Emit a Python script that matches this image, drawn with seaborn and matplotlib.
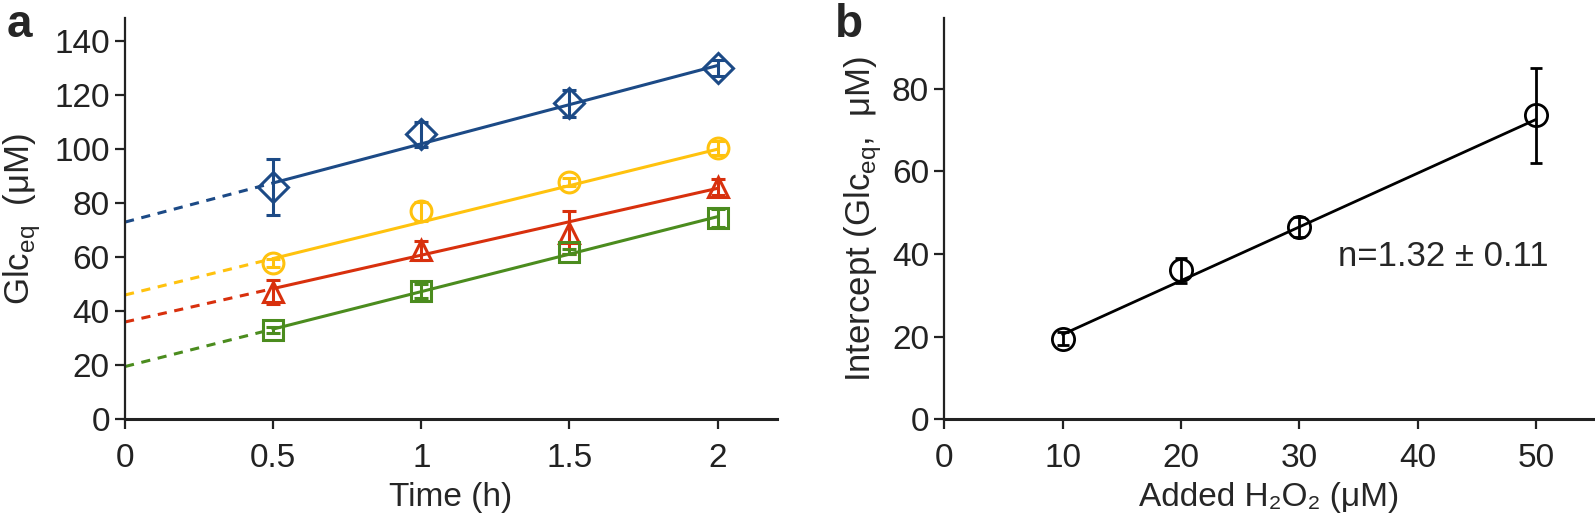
import numpy as np
import pandas as pd
import seaborn as sns
import matplotlib.pyplot as plt

# ---- panel a data ----
time_h = [0.5, 1.0, 1.5, 2.0]
series_names = ['blue', 'yellow', 'red', 'green']
series_colors = ['#1c4a86', '#ffc20e', '#d8300d', '#4b8c1e']
series_markers = ['D', 'o', '^', 's']
glc_blue = [86, 105.5, 117, 130]
glc_yellow = [58, 77, 88, 100.5]
glc_red = [47, 62.5, 69, 86]
glc_green = [33, 47.5, 62, 74.5]
err_blue = [10.5, 4.5, 5, 3]
err_yellow = [1.5, 3.5, 1.5, 2.5]
err_red = [4.5, 3.5, 8, 3]
err_green = [1, 2.5, 1, 3.2]
# fitted line values at t=0 and t=2
fit_start = [73, 46, 36, 19.5]
fit_end = [131, 100, 85.5, 75]

# ---- panel b data ----
h2o2 = [10, 20, 30, 50]
intercept = [19.5, 36, 46.5, 73.5]
intercept_err = [1.5, 3, 2.5, 11.5]
fit_b_x = [10, 50]
fit_b_y = [20.5, 72.5]

sns.set_theme(style='ticks')
narrow = ['Liberation Sans Narrow', 'Liberation Sans', 'DejaVu Sans']
plt.rcParams['font.family'] = narrow
plt.rcParams['mathtext.fontset'] = 'custom'
plt.rcParams['mathtext.rm'] = 'Liberation Sans'
plt.rcParams['axes.edgecolor'] = '#222222'
plt.rcParams['xtick.color'] = '#222222'
plt.rcParams['ytick.color'] = '#222222'

fig = plt.figure(figsize=(15.95, 5.22), dpi=100)
ax_a = fig.add_axes([0.0784, 0.197, 0.4086, 0.768])
ax_b = fig.add_axes([0.592, 0.197, 0.408, 0.768])

ys = [glc_blue, glc_yellow, glc_red, glc_green]
es = [err_blue, err_yellow, err_red, err_green]
for i, name in enumerate(series_names):
    c = series_colors[i]
    y0, y2 = fit_start[i], fit_end[i]
    y05 = y0 + (y2 - y0) * 0.25
    dashed = pd.DataFrame({'x': [0, 0.5], 'y': [y0, y05]})
    solid = pd.DataFrame({'x': [0.5, 2], 'y': [y05, y2]})
    sns.lineplot(data=dashed, x='x', y='y', ax=ax_a, color=c, lw=2.2,
                 linestyle=(0, (3, 2.5)))
    sns.lineplot(data=solid, x='x', y='y', ax=ax_a, color=c, lw=2.2)
    ms = 14 if series_markers[i] == 's' else 15
    ax_a.errorbar(time_h, ys[i], yerr=es[i], fmt=series_markers[i], color=c,
                  mfc='none', mec=c, mew=2.2, ms=ms, capsize=5, elinewidth=2.2,
                  capthick=2.2, zorder=3)

ax_a.set_xlim(0, 2.2)
ax_a.set_ylim(0, 148.5)
ax_a.set_xticks([0, 0.5, 1, 1.5, 2])
ax_a.set_xticklabels(['0', '0.5', '1', '1.5', '2'])
ax_a.set_yticks(range(0, 141, 20))
ax_a.set_xlabel('Time (h)', fontsize=24, labelpad=6)
ax_a.set_ylabel(r'Glc$_{\rm eq}$  (μM)', fontsize=25, labelpad=8,
                family=['Liberation Sans', 'DejaVu Sans'])

sns.lineplot(x=fit_b_x, y=fit_b_y, ax=ax_b, color='black', lw=2)
ax_b.errorbar(h2o2, intercept, yerr=intercept_err, fmt='o', color='black',
              mfc='none', mec='black', mew=2, ms=16, capsize=4.5,
              elinewidth=2, capthick=2, zorder=3)
ax_b.set_xlim(0, 55)
ax_b.set_ylim(0, 97)
ax_b.set_xticks(range(0, 51, 10))
ax_b.set_yticks(range(0, 81, 20))
ax_b.set_xlabel('Added H₂O₂ (μM)', fontsize=24, labelpad=6)
ax_b.set_ylabel(r'Intercept (Glc$_{\rm eq}$,  μM)', fontsize=25, labelpad=6,
                family=['Liberation Sans', 'DejaVu Sans'])
ax_b.text(33.3, 39.3, 'n=1.32 ± 0.11', fontsize=25, va='center', ha='left')

for ax in (ax_a, ax_b):
    sns.despine(ax=ax)
    ax.spines['left'].set_linewidth(1.6)
    ax.spines['bottom'].set_linewidth(2.2)
    ax.tick_params(axis='both', labelsize=24, width=1.6, length=7,
                   direction='out')
    ax.tick_params(axis='x', pad=10)
    ax.tick_params(axis='y', pad=4)

fig.text(0.004, 0.929, 'a', fontsize=33, fontweight='bold',
         family=['Liberation Sans', 'DejaVu Sans'], va='baseline')
fig.text(0.5235, 0.929, 'b', fontsize=33, fontweight='bold',
         family=['Liberation Sans', 'DejaVu Sans'], va='baseline')

fig.savefig('out.png', dpi=100)
